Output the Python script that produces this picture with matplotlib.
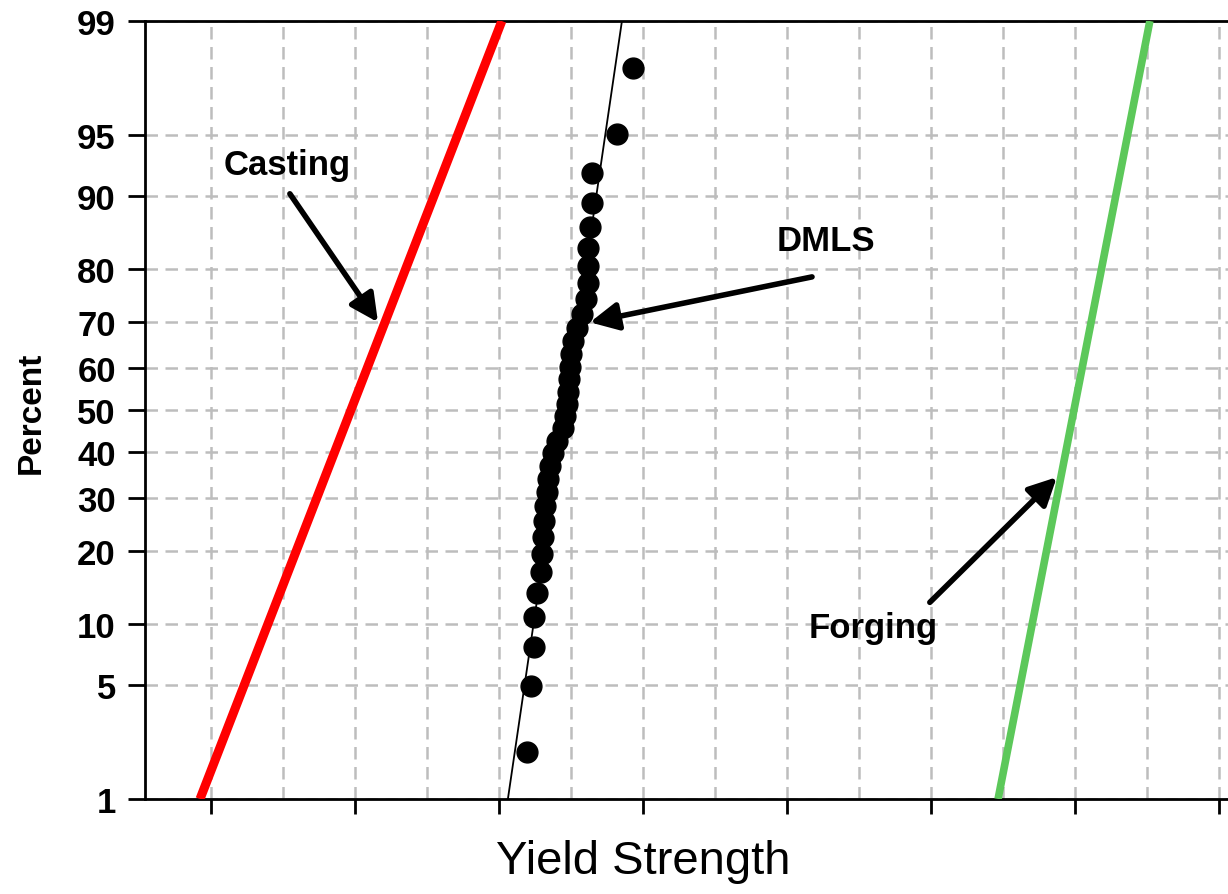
from statistics import NormalDist

import numpy as np
import matplotlib
matplotlib.use("Agg")
import matplotlib.pyplot as plt
from matplotlib.ticker import MultipleLocator, FixedLocator, NullFormatter

plt.rcParams['font.family'] = ['Liberation Sans', 'DejaVu Sans']

# DMLS yield strength sample, sorted (MPa)
dmls_strength = [909.7, 911.1, 912.2, 912.2, 913.2, 914.6, 914.9, 915.3, 915.6, 916.0,
                 916.7, 917.0, 917.7, 918.8, 920.1, 922.2, 922.9, 923.6, 924.0, 924.3,
                 924.7, 925.0, 925.7, 927.1, 928.8, 930.2, 930.9, 930.9, 930.9, 931.6,
                 932.3, 932.3, 941.0, 946.5]

# fitted normal lines, given by their values at the 1% and 99% points
fit_percent = [1, 99]
casting_fit = [796.2, 901.0]
dmls_fit = [903.1, 942.7]
forging_fit = [1073.3, 1126.0]

percent_ticks = [1, 5, 10, 20, 30, 40, 50, 60, 70, 80, 90, 95, 99]

# annotation labels: (text, text xy, arrow tail, arrow head)
labels = [
    ("Casting", (826.4, 92.9), (827.4, 90.2), (858.0, 70.0)),
    ("DMLS", (1013.5, 84.4), (1008.7, 78.7), (931.6, 70.0)),
    ("Forging", (1029.9, 9.7), (1049.6, 12.5), (1093.7, 34.4)),
]

_nd = NormalDist()


def to_z(p):
    p = np.clip(np.asarray(p, dtype=float), 1e-6, 100 - 1e-6)
    return np.vectorize(lambda v: _nd.inv_cdf(v / 100.0), otypes=[float])(p)


def from_z(z):
    z = np.asarray(z, dtype=float)
    return np.vectorize(lambda v: 100.0 * _nd.cdf(v), otypes=[float])(z)


# Bernard median-rank plotting positions
n = len(dmls_strength)
ranks = np.arange(1, n + 1)
dmls_percent = (ranks - 0.3) / (n + 0.4) * 100

fig = plt.figure(figsize=(12.28, 8.95), dpi=100)
ax = fig.add_axes([145 / 1228, 95 / 895, 1095 / 1228, 778 / 895])
ax.set_yscale('function', functions=(to_z, from_z))

ax.plot(casting_fit, fit_percent, color='#ff0000', lw=6.5, solid_capstyle='butt', zorder=3)
ax.plot(forging_fit, fit_percent, color='#5cc85a', lw=5.5, solid_capstyle='butt', zorder=3)
ax.plot(dmls_fit, fit_percent, color='black', lw=1.3, zorder=3)
ax.plot(dmls_strength, dmls_percent, 'o', color='black', ms=15, zorder=4)

for text, txy, tail, head in labels:
    ax.text(txy[0], txy[1], text, ha='center', va='center', fontsize=25,
            fontweight='bold', zorder=5)
    ax.annotate('', xy=head, xytext=tail,
                arrowprops=dict(arrowstyle='-|>', lw=4, color='black',
                                mutation_scale=42, shrinkA=0, shrinkB=0),
                zorder=5)

ax.set_xlim(777.1, 1157.3)
ax.set_ylim(1, 99)

ax.xaxis.set_major_locator(MultipleLocator(50))
ax.xaxis.set_minor_locator(MultipleLocator(25))
ax.xaxis.set_major_formatter(NullFormatter())
ax.yaxis.set_major_locator(FixedLocator(percent_ticks))
ax.yaxis.set_minor_locator(FixedLocator([]))
ax.set_yticklabels([str(p) for p in percent_ticks])

ax.tick_params(axis='x', which='major', direction='out', length=11, width=2)
ax.tick_params(axis='x', which='minor', length=0)
ax.tick_params(axis='y', which='major', direction='out', length=12, width=2,
               labelsize=25, pad=9)
for lbl in ax.get_yticklabels():
    lbl.set_fontweight('bold')

ax.grid(True, axis='x', which='both', color='#bdbdbd', ls=(0, (5, 3)), lw=1.8, zorder=0)
ax.grid(True, axis='y', which='major', color='#bdbdbd', ls=(0, (5, 3)), lw=1.8, zorder=0)
ax.set_axisbelow(True)

for side in ('left', 'bottom', 'top', 'right'):
    ax.spines[side].set_linewidth(2)

fig.text(31 / 1228, 1 - 413 / 895, "Percent", rotation=90, ha='center', va='center',
         fontsize=24, fontweight='bold')
fig.text(643 / 1228, 1 - 862 / 895, "Yield Strength", ha='center', va='center',
         fontsize=34)

fig.savefig("out.png", dpi=100)
